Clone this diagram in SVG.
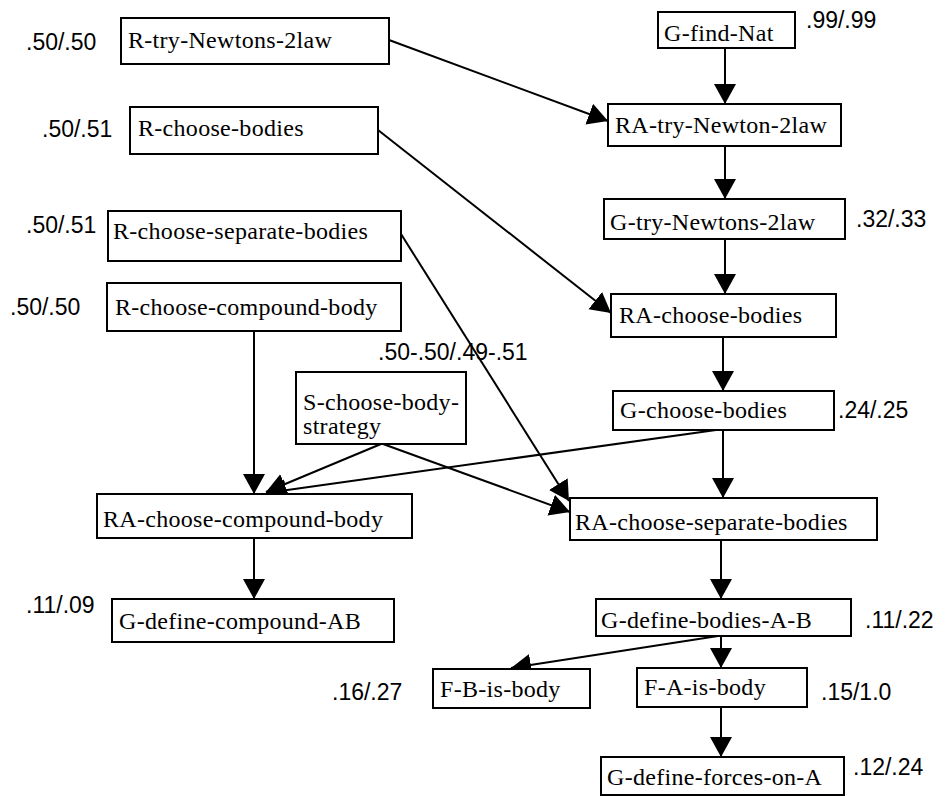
<svg xmlns="http://www.w3.org/2000/svg" width="946" height="796" viewBox="0 0 946 796">
<style>
.box{fill:#fff;stroke:#000;stroke-width:2}
.nt{font-family:"Liberation Serif","Times New Roman",serif;font-size:24px;letter-spacing:0.3px;fill:#000}
.lb{font-family:"Liberation Sans",Arial,sans-serif;font-size:23px;fill:#000}
.cn line{stroke:#000;stroke-width:2;marker-end:url(#ah)}
</style>
<defs>
<marker id="ah" markerUnits="userSpaceOnUse" markerWidth="22" markerHeight="24" refX="20" refY="11" orient="auto">
<path d="M0,0 L20,11 L0,22 z" fill="#000"/>
</marker>
</defs>
<rect width="946" height="796" fill="#fff"/>
<g id="connectors" class="cn">
<line x1="725" y1="48" x2="725" y2="104"/>
<line x1="389" y1="40" x2="608" y2="121"/>
<line x1="725" y1="146" x2="725" y2="199"/>
<line x1="725" y1="239" x2="725" y2="294"/>
<line x1="378" y1="130" x2="611" y2="313"/>
<line x1="723" y1="337" x2="723" y2="391"/>
<line x1="723" y1="430" x2="723" y2="498"/>
<line x1="716" y1="430" x2="266" y2="493"/>
<line x1="381" y1="444" x2="266" y2="492"/>
<line x1="254" y1="331" x2="254" y2="494"/>
<line x1="401" y1="234" x2="569" y2="501"/>
<line x1="383" y1="444" x2="570" y2="512"/>
<line x1="254" y1="538" x2="254" y2="599"/>
<line x1="721" y1="540" x2="721" y2="599"/>
<line x1="721" y1="636" x2="721" y2="668"/>
<line x1="718" y1="636" x2="511" y2="668"/>
<line x1="721" y1="707" x2="721" y2="757"/>
</g>
<g id="n-r-try-newtons"><rect class="box" x="121" y="18" width="268" height="46"/><text class="nt" x="128" y="48">R-try-Newtons-2law</text></g>
<g id="n-r-choose-bodies"><rect class="box" x="130" y="107" width="248" height="47"/><text class="nt" x="138" y="136">R-choose-bodies</text></g>
<g id="n-r-choose-separate"><rect class="box" x="108" y="211" width="293" height="50"/><text class="nt" x="113" y="239">R-choose-separate-bodies</text></g>
<g id="n-r-choose-compound"><rect class="box" x="107" y="283" width="294" height="48"/><text class="nt" x="115" y="315">R-choose-compound-body</text></g>
<g id="n-s-choose-strategy"><rect class="box" x="296" y="372" width="170" height="72"/><text class="nt" x="303" y="410">S-choose-body-</text><text class="nt" x="303" y="434">strategy</text></g>
<g id="n-ra-choose-compound"><rect class="box" x="97" y="494" width="315" height="44"/><text class="nt" x="103" y="527">RA-choose-compound-body</text></g>
<g id="n-g-define-compound"><rect class="box" x="112" y="599" width="282" height="43"/><text class="nt" x="119" y="629">G-define-compound-AB</text></g>
<g id="n-g-find-nat"><rect class="box" x="658" y="12" width="137" height="36"/><text class="nt" x="664" y="41">G-find-Nat</text></g>
<g id="n-ra-try-newton"><rect class="box" x="608" y="104" width="233" height="42"/><text class="nt" x="615" y="133">RA-try-Newton-2law</text></g>
<g id="n-g-try-newtons"><rect class="box" x="604" y="199" width="241" height="40"/><text class="nt" x="610" y="230">G-try-Newtons-2law</text></g>
<g id="n-ra-choose-bodies"><rect class="box" x="611" y="294" width="225" height="43"/><text class="nt" x="619" y="323">RA-choose-bodies</text></g>
<g id="n-g-choose-bodies"><rect class="box" x="613" y="391" width="221" height="39"/><text class="nt" x="620" y="418">G-choose-bodies</text></g>
<g id="n-ra-choose-separate"><rect class="box" x="570" y="498" width="307" height="42"/><text class="nt" x="575" y="530">RA-choose-separate-bodies</text></g>
<g id="n-g-define-bodies"><rect class="box" x="596" y="599" width="255" height="37"/><text class="nt" x="601" y="628">G-define-bodies-A-B</text></g>
<g id="n-f-b-is-body"><rect class="box" x="433" y="669" width="157" height="39"/><text class="nt" x="440" y="697">F-B-is-body</text></g>
<g id="n-f-a-is-body"><rect class="box" x="637" y="668" width="170" height="39"/><text class="nt" x="644" y="695">F-A-is-body</text></g>
<g id="n-g-define-forces"><rect class="box" x="601" y="757" width="243" height="38"/><text class="nt" x="607" y="785">G-define-forces-on-A</text></g>
<g id="labels">
<text class="lb" x="26" y="50">.50/.50</text>
<text class="lb" x="42" y="137">.50/.51</text>
<text class="lb" x="26" y="233">.50/.51</text>
<text class="lb" x="10" y="315">.50/.50</text>
<text class="lb" x="378" y="360">.50-.50/.49-.51</text>
<text class="lb" x="26" y="613">.11/.09</text>
<text class="lb" x="806" y="28">.99/.99</text>
<text class="lb" x="856" y="227">.32/.33</text>
<text class="lb" x="838" y="418">.24/.25</text>
<text class="lb" x="865" y="628">.11/.22</text>
<text class="lb" x="332" y="700">.16/.27</text>
<text class="lb" x="821" y="700">.15/1.0</text>
<text class="lb" x="853" y="775">.12/.24</text>
</g>
</svg>
